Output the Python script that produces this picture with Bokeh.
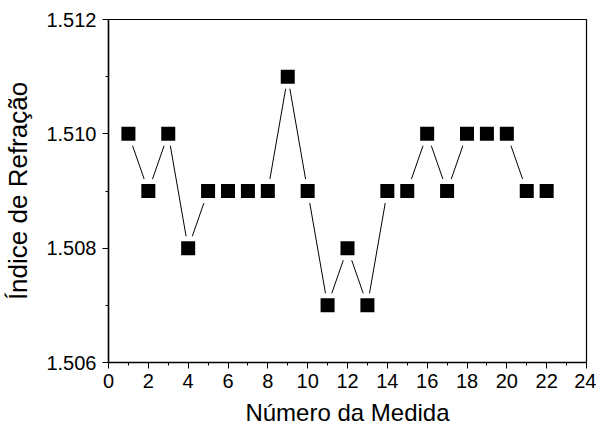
from bokeh.plotting import figure
from bokeh.models import FixedTicker, PrintfTickFormatter, Range1d
from bokeh.embed import file_html
from bokeh.resources import INLINE

medida = list(range(1, 23))
indice = [1.510, 1.509, 1.510, 1.508, 1.509, 1.509, 1.509, 1.509, 1.511, 1.509, 1.507,
          1.508, 1.507, 1.509, 1.509, 1.510, 1.509, 1.510, 1.510, 1.510, 1.509, 1.509]
x_ticks = [0, 2, 4, 6, 8, 10, 12, 14, 16, 18, 20, 22, 24]
x_minor = list(range(0, 25))
y_ticks = [1.506, 1.508, 1.510, 1.512]
y_minor = [1.506, 1.507, 1.508, 1.509, 1.510, 1.511, 1.512]

p = figure(width=596, height=428, output_backend="svg", toolbar_location=None,
           x_range=Range1d(0, 24), y_range=Range1d(1.506, 1.512),
           min_border_left=107, min_border_right=10, min_border_top=19, min_border_bottom=64)

p.line(medida, indice, line_color="black", line_width=1)
p.scatter(medida, indice, marker="square", size=19, fill_color="black",
          line_color="white", line_width=5)

p.grid.visible = False
p.outline_line_color = "black"
p.outline_line_width = 1.2

font = "Liberation Sans"
for ax in (p.xaxis[0], p.yaxis[0]):
    ax.axis_line_width = 1.5
    ax.axis_line_color = "black"
    ax.major_tick_line_color = "black"
    ax.minor_tick_line_color = "black"
    ax.major_tick_out = 6
    ax.major_tick_in = 0
    ax.minor_tick_out = 3
    ax.minor_tick_in = 0
    ax.major_label_text_font = font
    ax.major_label_text_font_size = "20px"
    ax.major_label_text_color = "black"
    ax.axis_label_text_font = font
    ax.axis_label_text_font_style = "normal"
    ax.axis_label_text_color = "black"

p.xaxis[0].axis_label_text_font_size = "24px"
p.yaxis[0].axis_label_text_font_size = "26px"
p.xaxis[0].ticker = FixedTicker(ticks=x_ticks, minor_ticks=x_minor)
p.yaxis[0].ticker = FixedTicker(ticks=y_ticks, minor_ticks=y_minor)
p.yaxis[0].formatter = PrintfTickFormatter(format="%.3f")
p.xaxis[0].axis_label = "Número da Medida"
p.yaxis[0].axis_label = "Índice de Refração"
p.xaxis[0].major_label_standoff = 5
p.yaxis[0].major_label_standoff = 6
p.xaxis[0].axis_label_standoff = 8
p.yaxis[0].axis_label_standoff = 10

open("out.html", "w").write(file_html(p, INLINE))
